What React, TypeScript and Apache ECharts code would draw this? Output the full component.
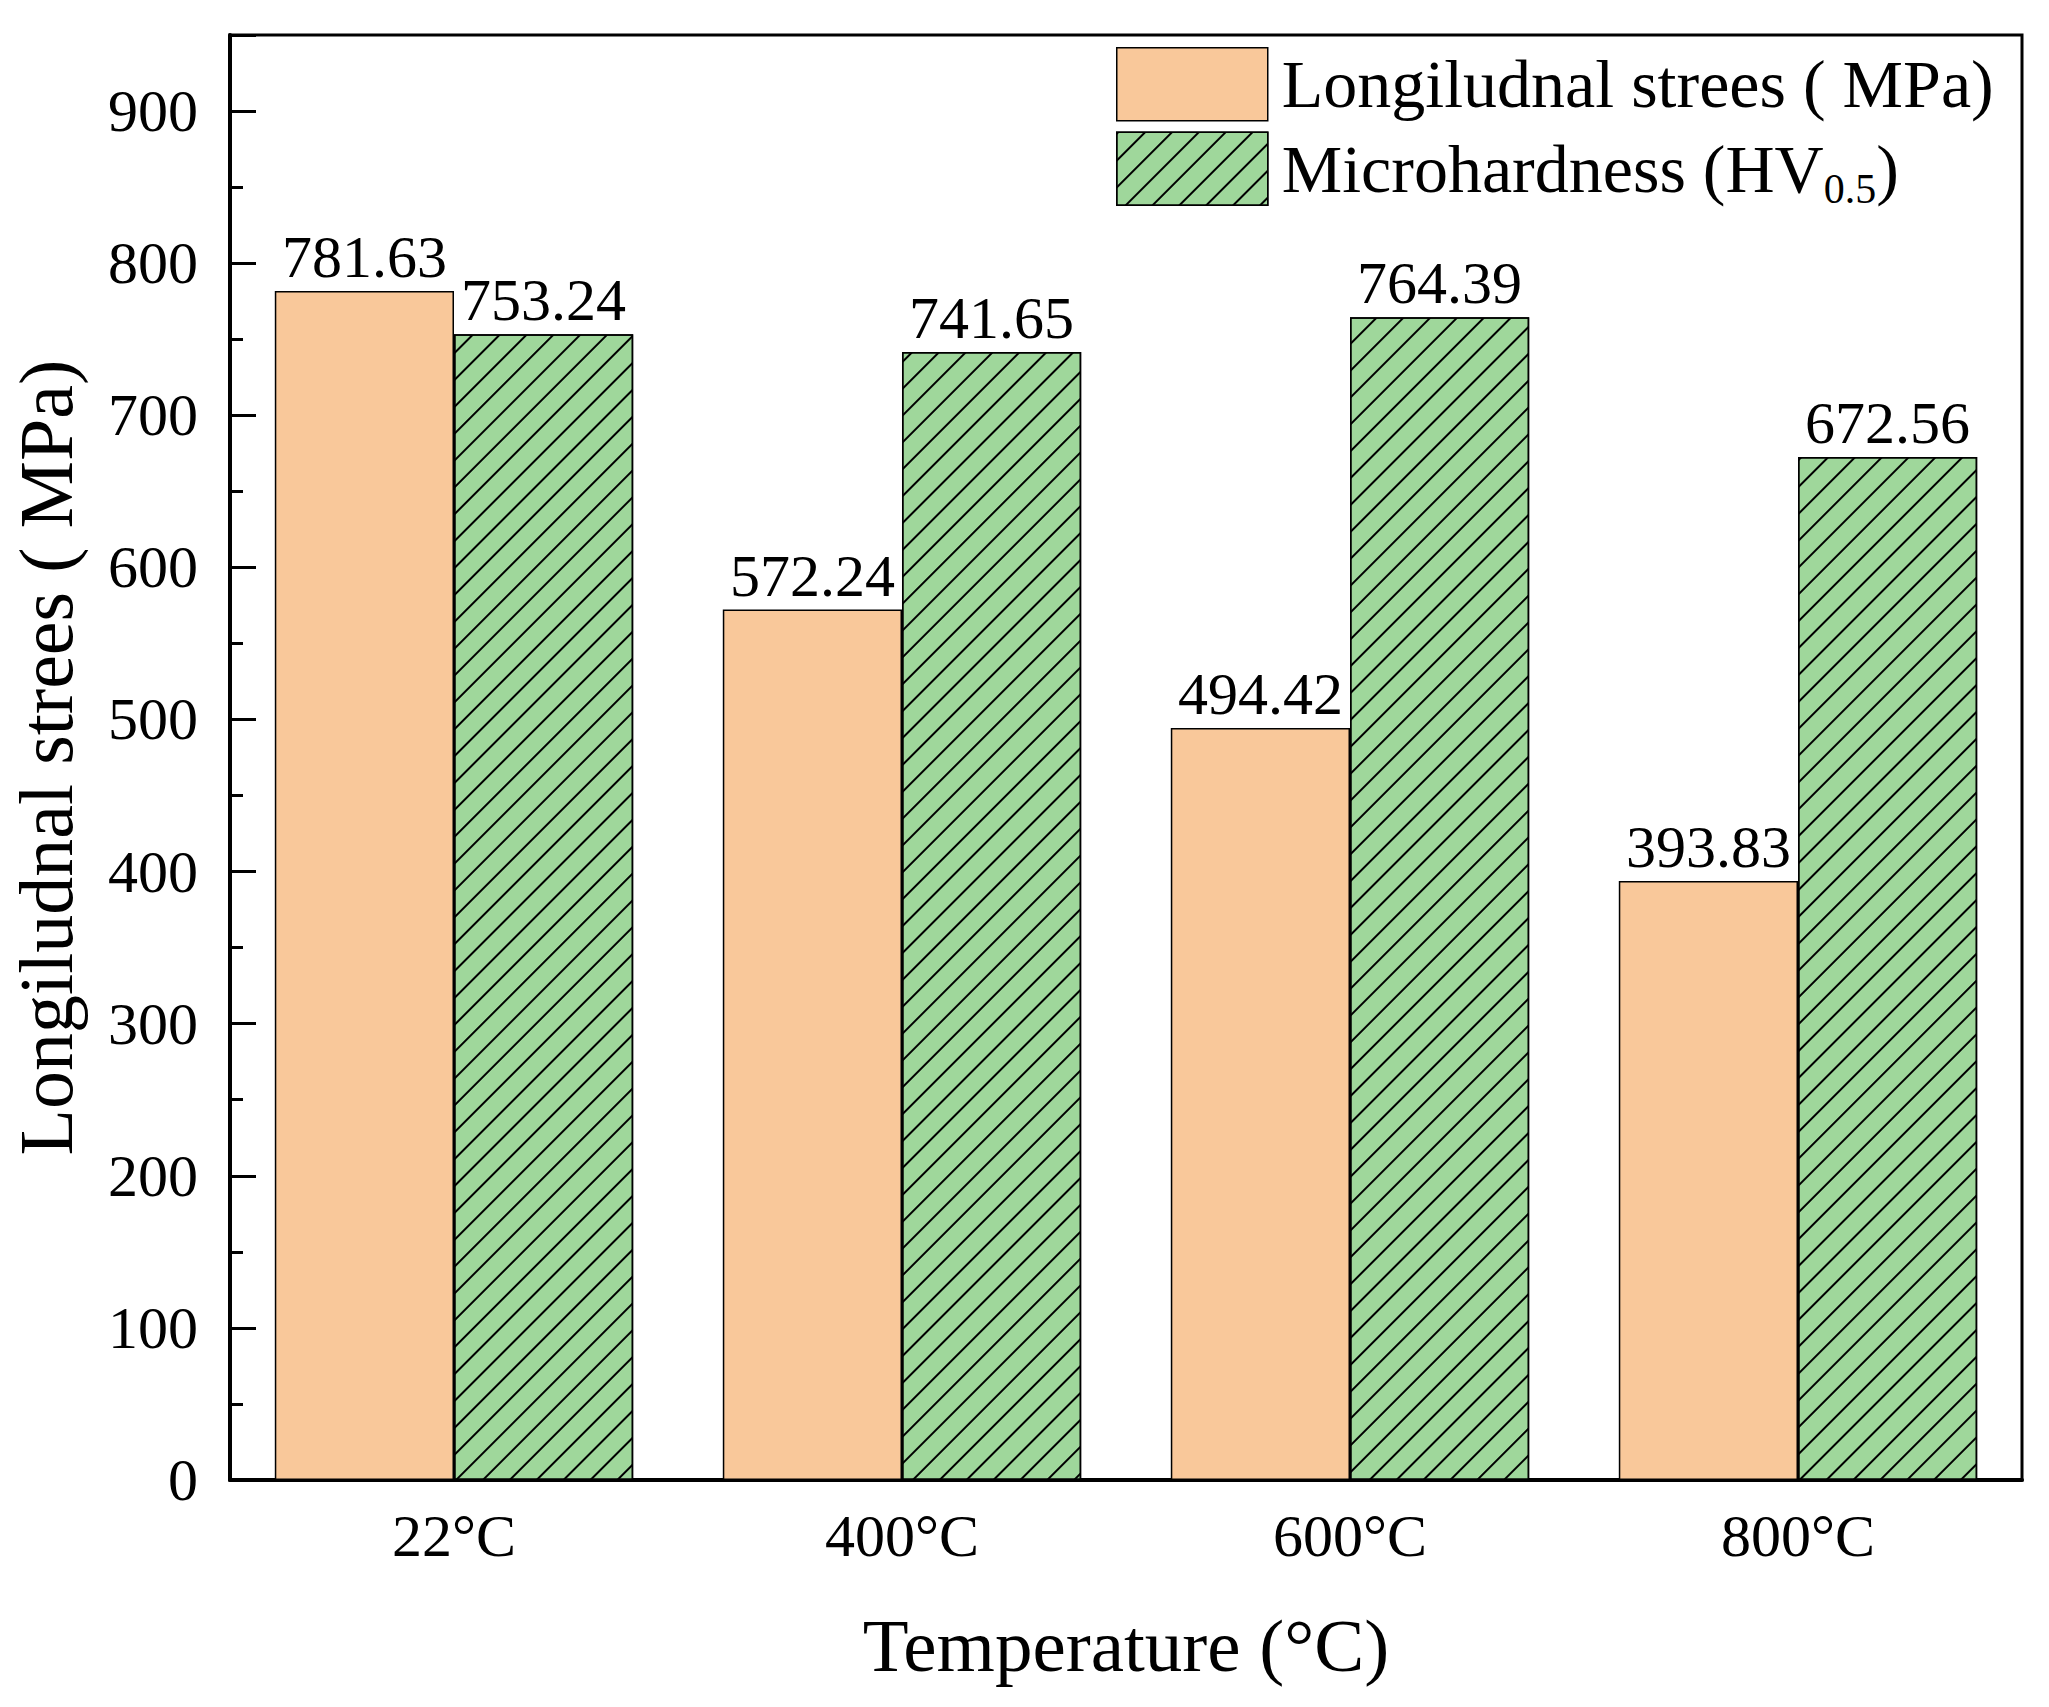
import { useEffect, useRef } from 'react';
import * as echarts from 'echarts';

const categories = ['22°C', '400°C', '600°C', '800°C'];
const stressValues = [781.63, 572.24, 494.42, 393.83];
const hardnessValues = [753.24, 741.65, 764.39, 672.56];
const seriesNames = ['Longiludnal strees ( MPa)', 'Microhardness (HV0.5)'];

const FONT = '"Liberation Serif", "Times New Roman", serif';

export default function App() {
  const chartRef = useRef<HTMLDivElement>(null);

  useEffect(() => {
    if (!chartRef.current) return;
    const chart = echarts.init(chartRef.current, undefined, { renderer: 'svg' });

    const labelStyle = {
      show: true,
      position: 'top' as const,
      distance: 4,
      color: '#000',
      fontFamily: FONT,
      fontSize: 60,
      formatter: (p: any) => p.value.toFixed(2),
    };

    const option: echarts.EChartsOption = {
      animation: false,
      backgroundColor: '#fff',
      grid: {
        left: 229,
        right: 27,
        top: 35,
        bottom: 227,
        show: true,
        borderColor: '#000',
        borderWidth: 3,
        backgroundColor: 'transparent',
      },
      legend: {
        left: 1111,
        top: 42,
        orient: 'vertical',
        icon: 'rect',
        itemWidth: 151,
        itemHeight: 73,
        itemGap: 10,
        data: seriesNames,
        itemStyle: { borderColor: '#000', borderWidth: 1.5 },
        textStyle: {
          fontFamily: FONT,
          fontSize: 68,
          color: '#000',
          padding: [0, 0, 0, 9],
          rich: {
            sub: { fontFamily: FONT, fontSize: 42, color: '#000', padding: [40, 0, 0, 0] },
          },
        },
        formatter: (name: string) =>
          name === seriesNames[1] ? 'Microhardness (HV{sub|0.5})' : name,
      },
      xAxis: {
        type: 'category',
        data: categories,
        name: 'Temperature (°C)',
        nameLocation: 'middle',
        nameGap: 128,
        nameTextStyle: { fontFamily: FONT, fontSize: 75, color: '#000' },
        axisLine: { lineStyle: { color: '#000', width: 4 } },
        axisTick: { inside: true, length: 18, lineStyle: { color: '#000', width: 2 } },
        axisLabel: { fontFamily: FONT, fontSize: 60, color: '#000', margin: 26 },
      },
      yAxis: {
        type: 'value',
        min: 0,
        max: 950,
        interval: 100,
        name: 'Longiludnal strees ( MPa)',
        nameLocation: 'middle',
        nameGap: 146,
        nameTextStyle: { fontFamily: FONT, fontSize: 76, color: '#000' },
        axisLine: { show: true, lineStyle: { color: '#000', width: 4 } },
        axisTick: { show: true, inside: true, length: 26, lineStyle: { color: '#000', width: 3 } },
        minorTick: { show: true, splitNumber: 2, length: 13, lineStyle: { color: '#000', width: 3 } },
        axisLabel: {
          fontFamily: FONT,
          fontSize: 60,
          color: '#000',
          margin: 32,
          showMaxLabel: false,
        },
        splitLine: { show: false },
      },
      series: [
        {
          name: seriesNames[0],
          type: 'bar',
          data: stressValues,
          barGap: '0%',
          barCategoryGap: '20%',
          itemStyle: { color: '#f9c89a', borderColor: '#000', borderWidth: 1.5 },
          label: labelStyle,
        },
        {
          name: seriesNames[1],
          type: 'bar',
          data: hardnessValues,
          barGap: '0%',
          barCategoryGap: '20%',
          itemStyle: {
            color: '#9fd79b',
            borderColor: '#000',
            borderWidth: 1.5,
            decal: {
              symbol: 'rect',
              color: '#000',
              dashArrayX: [1, 0],
              dashArrayY: [1.6, 17],
              rotation: -Math.PI / 4,
            },
          },
          label: labelStyle,
        },
      ],
    };

    chart.setOption(option);

    return () => {
      chart.dispose();
    };
  }, []);

  return (
    <div
      ref={chartRef}
      style={{ position: 'fixed', left: 0, top: 0, width: 2049, height: 1707 }}
    />
  );
}
